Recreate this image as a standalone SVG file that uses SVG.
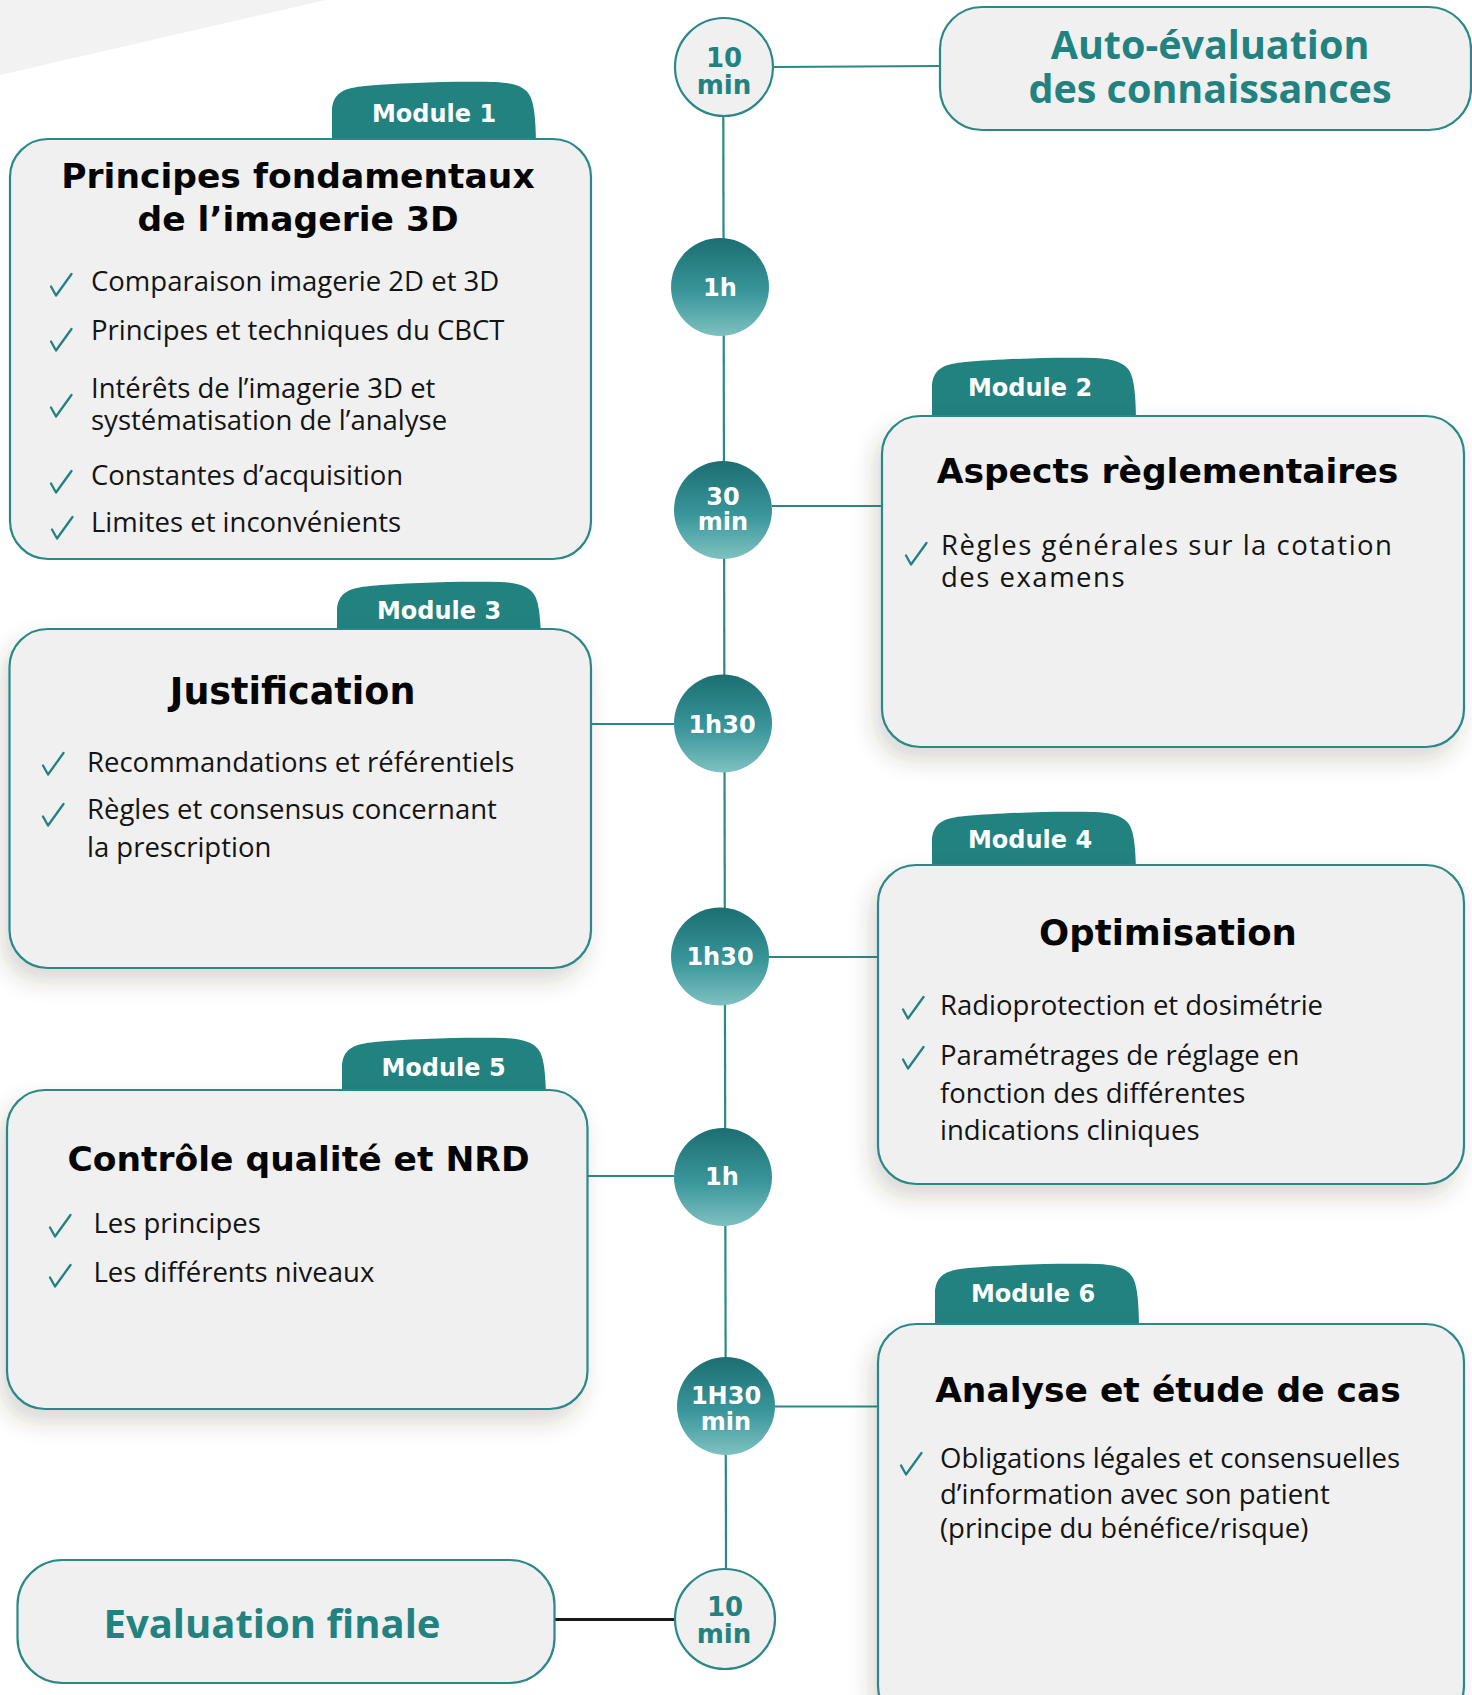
<svg xmlns="http://www.w3.org/2000/svg" xmlns:xlink="http://www.w3.org/1999/xlink" width="1472" height="1695" viewBox="0 0 1472 1695">
<defs>
<style>
.box{fill:#f0f0f0;stroke:#2a8987;stroke-width:2.2}
.tab{fill:#228280}
.tabl{font-family:"DejaVu Sans",Verdana,sans-serif;font-weight:bold;font-size:24px;fill:#ffffff;text-anchor:middle}
.title{font-family:"DejaVu Sans",Verdana,sans-serif;font-weight:bold;font-size:34.5px;fill:#050505;text-anchor:middle}
.item{font-family:"Open Sans","Noto Sans",sans-serif;font-size:27.5px;fill:#141414}
.chk{fill:none;stroke:#23817f;stroke-width:2.3;stroke-linecap:round;stroke-linejoin:round}
.big{font-family:"Open Sans","Noto Sans",sans-serif;font-weight:bold;font-size:39.5px;fill:#228280;text-anchor:middle}
.cl{font-family:"DejaVu Sans",Verdana,sans-serif;font-weight:bold;font-size:24px;fill:#ffffff;text-anchor:middle}
.clt{font-family:"DejaVu Sans",Verdana,sans-serif;font-weight:bold;font-size:26px;fill:#228280;text-anchor:middle}
.line{stroke:#2a8987;stroke-width:2.2;fill:none}
.dot{fill:url(#grad)}
.dotl{fill:#f0f0f0;stroke:#2a8987;stroke-width:2.2}
</style>
<linearGradient id="grad" x1="0" y1="0" x2="0" y2="1">
<stop offset="0" stop-color="#1c6e71"/>
<stop offset="0.55" stop-color="#39969a"/>
<stop offset="1" stop-color="#7fc1c1"/>
</linearGradient>
<filter id="sh" x="-15%" y="-15%" width="130%" height="140%">
<feDropShadow dx="-6" dy="12" stdDeviation="11" flood-color="#4a3a20" flood-opacity="0.2"/>
</filter>
<path id="tabp" d="M0,70 L0,26 C2,10 13,6 33,4 C68,1 118,-1 163,0 C183,1 193,5 198,14 C202,22 204,36 204,70 Z"/>
<path id="ck" d="M0,12.5 L5,21.5 L20.5,0"/>
</defs>
<rect width="1472" height="1695" fill="#ffffff"/>
<polygon points="0,0 326,0 0,75" fill="#f2f2f2"/>

<g id="connectors">
<line class="line" x1="723.3" y1="116" x2="726" y2="1569"/>
<line class="line" x1="773" y1="67" x2="941" y2="66"/>
<line class="line" x1="772" y1="506" x2="883" y2="506"/>
<line class="line" x1="590" y1="724" x2="674" y2="724"/>
<line class="line" x1="769" y1="957" x2="879" y2="957"/>
<line class="line" x1="587" y1="1176" x2="674" y2="1176"/>
<line class="line" x1="775" y1="1406.5" x2="879" y2="1406.5"/>
<line x1="554" y1="1619.5" x2="675" y2="1619.5" stroke="#1a1a1a" stroke-width="3"/>
</g>

<g id="auto-evaluation">
<rect class="box" x="940" y="7" width="531" height="123" rx="42"/>
<text class="big" x="1210" y="59">Auto-évaluation</text>
<text class="big" x="1210" y="102.5">des connaissances</text>
</g>

<g id="module1">
<use href="#tabp" class="tab" x="332" y="82"/>
<rect class="box" x="10" y="139" width="581" height="420" rx="38"/>
<text class="tabl" x="434" y="122">Module 1</text>
<text class="title" x="298" y="187.5">Principes fondamentaux</text>
<text class="title" x="298" y="231">de l’imagerie 3D</text>
<use href="#ck" class="chk" x="51" y="274"/>
<text class="item" x="91" y="291">Comparaison imagerie 2D et 3D</text>
<use href="#ck" class="chk" x="51" y="329"/>
<text class="item" x="91" y="340">Principes et techniques du CBCT</text>
<use href="#ck" class="chk" x="51" y="395"/>
<text class="item" x="91" y="398">Intérêts de l’imagerie 3D et</text>
<text class="item" x="91" y="429.5">systématisation de l’analyse</text>
<use href="#ck" class="chk" x="51" y="471"/>
<text class="item" x="91" y="485">Constantes d’acquisition</text>
<use href="#ck" class="chk" x="52" y="517"/>
<text class="item" x="91" y="532">Limites et inconvénients</text>
</g>

<g id="module2">
<use href="#tabp" class="tab" x="932" y="358"/>
<rect class="box" x="882" y="416" width="582" height="331" rx="38" filter="url(#sh)"/>
<text class="tabl" x="1030" y="396">Module 2</text>
<text class="title" x="1167.5" y="483">Aspects règlementaires</text>
<use href="#ck" class="chk" x="906" y="543"/>
<text class="item" x="941" y="555" letter-spacing="1.5">Règles générales sur la cotation</text>
<text class="item" x="941" y="587" letter-spacing="1.5">des examens</text>
</g>

<g id="module3">
<use href="#tabp" class="tab" x="337" y="582"/>
<rect class="box" x="9.5" y="629" width="581.5" height="339" rx="38" filter="url(#sh)"/>
<text class="tabl" x="439" y="619">Module 3</text>
<text class="title" x="292.6" y="704" style="font-size:36.5px">Justification</text>
<use href="#ck" class="chk" x="43" y="753"/>
<text class="item" x="87" y="771.7">Recommandations et référentiels</text>
<use href="#ck" class="chk" x="43" y="804"/>
<text class="item" x="87" y="819">Règles et consensus concernant</text>
<text class="item" x="87" y="856.7">la prescription</text>
</g>

<g id="module4">
<use href="#tabp" class="tab" x="932" y="812"/>
<rect class="box" x="878" y="865" width="586" height="319" rx="38" filter="url(#sh)"/>
<text class="tabl" x="1030" y="848">Module 4</text>
<text class="title" x="1168" y="945" style="font-size:35.5px">Optimisation</text>
<use href="#ck" class="chk" x="903" y="997"/>
<text class="item" x="940" y="1015">Radioprotection et dosimétrie</text>
<use href="#ck" class="chk" x="903" y="1047"/>
<text class="item" x="940" y="1065">Paramétrages de réglage en</text>
<text class="item" x="940" y="1102.7">fonction des différentes</text>
<text class="item" x="940" y="1140">indications cliniques</text>
</g>

<g id="module5">
<use href="#tabp" class="tab" x="342" y="1038"/>
<rect class="box" x="7" y="1090" width="580.5" height="319" rx="38" filter="url(#sh)"/>
<text class="tabl" x="443.6" y="1076">Module 5</text>
<text class="title" x="298.5" y="1170.7">Contrôle qualité et NRD</text>
<use href="#ck" class="chk" x="50" y="1215"/>
<text class="item" x="93.4" y="1233">Les principes</text>
<use href="#ck" class="chk" x="50" y="1265"/>
<text class="item" x="93.4" y="1281.7">Les différents niveaux</text>
</g>

<g id="module6">
<use href="#tabp" class="tab" x="935" y="1264"/>
<rect class="box" x="878" y="1324" width="586" height="400" rx="38" filter="url(#sh)"/>
<text class="tabl" x="1033" y="1302">Module 6</text>
<text class="title" x="1168" y="1401.7">Analyse et étude de cas</text>
<use href="#ck" class="chk" x="901" y="1453"/>
<text class="item" x="940" y="1468">Obligations légales et consensuelles</text>
<text class="item" x="940" y="1504">d’information avec son patient</text>
<text class="item" x="940" y="1538">(principe du bénéfice/risque)</text>
</g>

<g id="evaluation-finale">
<rect class="box" x="17.5" y="1560" width="537" height="123" rx="45"/>
<text class="big" x="272" y="1637.7" style="font-size:40px">Evaluation finale</text>
</g>

<g id="t1"><circle class="dotl" cx="724" cy="67" r="49"/><text class="clt" x="724" y="67">10</text><text class="clt" x="724" y="94">min</text></g>
<g id="t2"><circle class="dot" cx="720" cy="287" r="49"/><text class="cl" x="720" y="295.5">1h</text></g>
<g id="t3"><circle class="dot" cx="723" cy="510" r="49"/><text class="cl" x="723" y="505">30</text><text class="cl" x="723" y="530">min</text></g>
<g id="t4"><circle class="dot" cx="723" cy="723.5" r="49"/><text class="cl" x="722" y="733">1h30</text></g>
<g id="t5"><circle class="dot" cx="720" cy="956.5" r="49"/><text class="cl" x="720" y="965">1h30</text></g>
<g id="t6"><circle class="dot" cx="723" cy="1177" r="49"/><text class="cl" x="722" y="1185">1h</text></g>
<g id="t7"><circle class="dot" cx="726" cy="1406" r="49"/><text class="cl" x="726" y="1404">1H30</text><text class="cl" x="726" y="1430">min</text></g>
<g id="t8"><circle class="dotl" cx="725" cy="1619" r="50"/><text class="clt" x="725" y="1616">10</text><text class="clt" x="724" y="1643">min</text></g>
</svg>
